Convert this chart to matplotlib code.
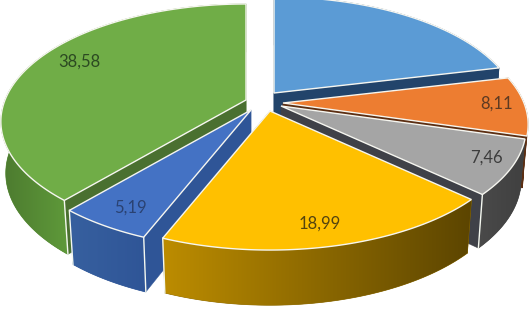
import numpy as np
import matplotlib
matplotlib.use("Agg")
import matplotlib.pyplot as plt
from matplotlib.patches import Polygon
from matplotlib.colors import to_rgb

# slice values, clockwise from 12 o'clock (blue has no visible label, estimated)
names = ["blue", "orange", "gray", "yellow", "dblue", "green"]
values = [21.2, 8.11, 7.46, 18.99, 5.19, 38.58]
labelled = [False, True, True, True, True, True]

# drawing stuff
apex = {"blue": (274, 93), "orange": (283, 103), "gray": (281, 106),
        "yellow": (270, 111), "dblue": (251, 110), "green": (246, 100)}
top_col = {"blue": "#5B9BD5", "orange": "#ED7D31", "gray": "#A5A5A5",
           "yellow": "#FFC000", "dblue": "#4472C4", "green": "#70AD47"}
face_col = {"blue": "#22446B", "orange": "#5C2E12", "gray": "#3F4148",
            "yellow": "#664D00", "dblue": "#2F5597", "green": "#4A7030"}
# side colour, left and right end
side_col = {"blue": ("#22446B", "#22446B"), "orange": ("#5C2E12", "#5C2E12"),
            "gray": ("#4A4A4A", "#404040"), "yellow": ("#BC8C00", "#5C4500"),
            "dblue": ("#37609F", "#2F5597"), "green": ("#4C7A2F", "#5F9A3A")}
text_col = {"orange": "#5E3A22", "gray": "#3C3C3C", "yellow": "#54440F",
            "dblue": "#2A4272", "green": "#2C4A22"}
label_pos = {"orange": (497, 104), "gray": (486, 158), "yellow": (320, 224),
             "dblue": (130, 208), "green": (79, 62)}
draw_order = ["blue", "orange", "gray", "green", "dblue", "yellow"]

A, B, K = 241, 113.6, 0.183
DEPTH, SX, SY = 51, 0.98, 1.03


def project(theta, name, bottom=False):
    t = np.radians(theta)
    d = 1 + K * np.cos(t)
    x = A * np.sin(t) / d
    y = -B * np.cos(t) / d
    ax0, ay0 = apex[name]
    if bottom:
        return np.column_stack([ax0 + SX * x, ay0 + SY * y + DEPTH])
    return np.column_stack([ax0 + x, ay0 + y])


fig = plt.figure(figsize=(5.31, 3.09), dpi=100)
ax = fig.add_axes([0, 0, 1, 1])

edges = np.cumsum([0] + values) / sum(values) * 360
z = 1
for name in draw_order:
    i = names.index(name)
    t0, t1 = edges[i], edges[i + 1]
    ang = np.linspace(t0, t1, int(t1 - t0) * 2 + 2)
    top = project(ang, name)
    low = project(ang, name, bottom=True)
    ap = np.array(apex[name], dtype=float)
    ap_low = ap + [0, DEPTH]

    # cut faces
    for end_top, end_low in ((top[0], low[0]), (top[-1], low[-1])):
        ax.fill([ap[0], end_top[0], end_low[0], ap_low[0]],
                [ap[1], end_top[1], end_low[1], ap_low[1]],
                color=face_col[name], lw=0.3, zorder=z)

    # outer side, gradient left to right clipped to the band
    band = np.vstack([top, low[::-1]])
    c0, c1 = np.array(to_rgb(side_col[name][0])), np.array(to_rgb(side_col[name][1]))
    ax.fill(band[:, 0], band[:, 1], color=(c0 + c1) / 2, lw=0.5, zorder=z + 0.05)
    vis = ang < 280
    x0 = min(top[vis, 0].min(), low[vis, 0].min())
    x1 = max(top[vis, 0].max(), low[vis, 0].max())
    grad = np.linspace(0, 1, 128)[None, :, None] * (c1 - c0) + c0
    im = ax.imshow(grad, extent=(x0, x1, 309, 0), aspect="auto", zorder=z + 0.1,
                   interpolation="bilinear")
    im.set_clip_path(Polygon(band, closed=True, transform=ax.transData))

    if name in ("green", "dblue", "gray", "yellow"):
        vis_edges = {"green": [0], "dblue": [0, -1], "gray": [-1], "yellow": [-1]}[name]
        for k in vis_edges:
            ax.plot([top[k][0], low[k][0]], [top[k][1], low[k][1]],
                    color="#F4F8F0", lw=1.0, zorder=z + 0.2)

    poly = np.vstack([ap, top])
    ax.fill(poly[:, 0], poly[:, 1], facecolor=top_col[name], edgecolor="#F6F6F0",
            lw=1.0, joinstyle="miter", zorder=z + 0.3)
    z += 1

for name, v, show in zip(names, values, labelled):
    if show:
        x, y = label_pos[name]
        ax.text(x, y, f"{v:.2f}".replace(".", ","), ha="center", va="center",
                fontsize=12, family="Lato", color=text_col[name], zorder=20)

ax.set_xlim(0, 531)
ax.set_ylim(309, 0)
ax.axis("off")

fig.savefig("out.png", dpi=100, facecolor="white")
